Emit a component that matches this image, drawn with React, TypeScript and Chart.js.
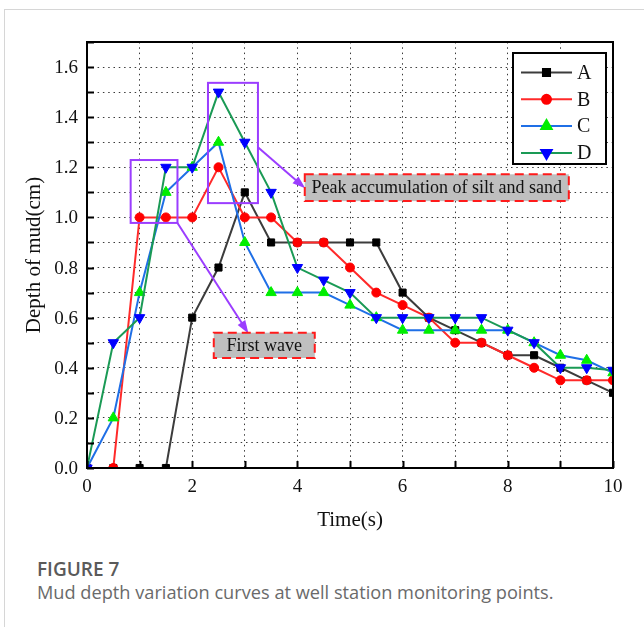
import React, { useEffect, useRef } from 'react';
import { Chart, registerables } from 'chart.js';
import { drawPoint } from 'chart.js/helpers';

Chart.register(...registerables);

// ---- data ----
const times = [0, 0.5, 1, 1.5, 2, 2.5, 3, 3.5, 4, 4.5, 5, 5.5, 6, 6.5, 7, 7.5, 8, 8.5, 9, 9.5, 10];
const seriesA = [0, 0, 0, 0, 0.6, 0.8, 1.1, 0.9, 0.9, 0.9, 0.9, 0.9, 0.7, 0.6, 0.55, 0.5, 0.45, 0.45, 0.4, 0.35, 0.3];
const seriesB = [0, 0, 1, 1, 1, 1.2, 1, 1, 0.9, 0.9, 0.8, 0.7, 0.65, 0.6, 0.5, 0.5, 0.45, 0.4, 0.35, 0.35, 0.35];
const seriesC = [0, 0.2, 0.7, 1.1, 1.2, 1.3, 0.9, 0.7, 0.7, 0.7, 0.65, 0.6, 0.55, 0.55, 0.55, 0.55, 0.55, 0.5, 0.45, 0.43, 0.38];
const seriesD = [0, 0.5, 0.6, 1.2, 1.2, 1.5, 1.3, 1.1, 0.8, 0.75, 0.7, 0.6, 0.6, 0.6, 0.6, 0.6, 0.55, 0.5, 0.4, 0.4, 0.39];
const seriesNames = ['A', 'B', 'C', 'D'];
const xTickValues = [0, 2, 4, 6, 8, 10];
const xTickLabels = ['0', '2', '4', '6', '8', '10'];
const yTickValues = [0, 0.2, 0.4, 0.6, 0.8, 1.0, 1.2, 1.4, 1.6];
const yTickLabels = ['0.0', '0.2', '0.4', '0.6', '0.8', '1.0', '1.2', '1.4', '1.6'];

const xTitle = 'Time(s)';
const yTitle = 'Depth of mud(cm)';
const captionTitle = 'FIGURE 7';
const captionText = 'Mud depth variation curves at well station monitoring points.';

// annotations in data coordinates
const highlightBoxes = [
  { x0: 0.83, x1: 1.72, y0: 0.978, y1: 1.229 },
  { x0: 2.3, x1: 3.25, y0: 1.057, y1: 1.537 },
];
const arrows = [
  { x0: 1.72, y0: 0.978, x1: 3.07, y1: 0.537 },
  { x0: 3.25, y0: 1.28, x1: 4.15, y1: 1.116 },
];
const noteBoxes = [
  { text: 'Peak accumulation of silt and sand', x0: 4.14, x1: 9.16, y0: 1.065, y1: 1.172 },
  { text: 'First wave', x0: 2.41, x1: 4.33, y0: 0.439, y1: 0.54 },
];

const SERIF = "'Liberation Serif', 'Times New Roman', serif";
const PURPLE = '#9b3dff';

Chart.defaults.font.family = SERIF;

const styles = [
  { line: '#3c3c3c', point: '#000000', pointStyle: 'rect', radius: 5, rotation: 0 },
  { line: '#ff2a2a', point: '#ff0000', pointStyle: 'circle', radius: 4.5, rotation: 0 },
  { line: '#1f6fe6', point: '#00ee00', pointStyle: 'triangle', radius: 6, rotation: 0 },
  { line: '#1a9a55', point: '#0000ff', pointStyle: 'triangle', radius: 6, rotation: 180 },
];

const decorPlugin = {
  id: 'decor',
  afterDatasetsDraw(chart: any) {
    const { ctx, chartArea, scales } = chart;
    const xs = scales.x;
    const ys = scales.y;
    ctx.save();
    // purple highlight boxes
    ctx.strokeStyle = PURPLE;
    ctx.lineWidth = 2;
    highlightBoxes.forEach((b) => {
      const l = xs.getPixelForValue(b.x0);
      const r = xs.getPixelForValue(b.x1);
      const t = ys.getPixelForValue(b.y1);
      const bt = ys.getPixelForValue(b.y0);
      ctx.strokeRect(l, t, r - l, bt - t);
    });
    // arrows
    arrows.forEach((a) => {
      const px0 = xs.getPixelForValue(a.x0);
      const py0 = ys.getPixelForValue(a.y0);
      const px1 = xs.getPixelForValue(a.x1);
      const py1 = ys.getPixelForValue(a.y1);
      const ang = Math.atan2(py1 - py0, px1 - px0);
      const hl = 13;
      const hw = 4.5;
      const bx = px1 - hl * Math.cos(ang);
      const by = py1 - hl * Math.sin(ang);
      ctx.strokeStyle = PURPLE;
      ctx.lineWidth = 2;
      ctx.beginPath();
      ctx.moveTo(px0, py0);
      ctx.lineTo(bx + 3 * Math.cos(ang), by + 3 * Math.sin(ang));
      ctx.stroke();
      ctx.fillStyle = PURPLE;
      ctx.beginPath();
      ctx.moveTo(px1, py1);
      ctx.lineTo(bx - hw * Math.sin(ang), by + hw * Math.cos(ang));
      ctx.lineTo(bx + hw * Math.sin(ang), by - hw * Math.cos(ang));
      ctx.closePath();
      ctx.fill();
    });
    // note boxes
    noteBoxes.forEach((n) => {
      const l = xs.getPixelForValue(n.x0);
      const r = xs.getPixelForValue(n.x1);
      const t = ys.getPixelForValue(n.y1);
      const bt = ys.getPixelForValue(n.y0);
      ctx.fillStyle = '#bfbfbf';
      ctx.fillRect(l, t, r - l, bt - t);
      ctx.setLineDash([9, 5]);
      ctx.strokeStyle = '#ff1a1a';
      ctx.lineWidth = 2;
      ctx.strokeRect(l, t, r - l, bt - t);
      ctx.setLineDash([]);
      ctx.fillStyle = '#111';
      ctx.font = `18px ${SERIF}`;
      ctx.textAlign = 'center';
      ctx.textBaseline = 'middle';
      ctx.fillText(n.text, (l + r) / 2, (t + bt) / 2 + 1);
    });
    // frame
    ctx.strokeStyle = '#000';
    ctx.lineWidth = 2;
    ctx.strokeRect(chartArea.left, chartArea.top, chartArea.right - chartArea.left, chartArea.bottom - chartArea.top);
    // inward ticks
    ctx.beginPath();
    for (let i = 0; i <= 17; i++) {
      const py = Math.round(ys.getPixelForValue(i / 10)) + 0.5;
      ctx.moveTo(chartArea.left, py);
      ctx.lineTo(chartArea.left + 7, py);
    }
    for (let i = 0; i <= 10; i++) {
      const px = Math.round(xs.getPixelForValue(i)) + 0.5;
      ctx.moveTo(px, chartArea.bottom);
      ctx.lineTo(px, chartArea.bottom - 7);
    }
    ctx.stroke();

    // tick labels
    ctx.fillStyle = '#111';
    ctx.font = `19px ${SERIF}`;
    ctx.textBaseline = 'middle';
    ctx.textAlign = 'right';
    yTickValues.forEach((v, i) => {
      ctx.fillText(yTickLabels[i], chartArea.left - 9, ys.getPixelForValue(v) + 1);
    });
    ctx.textAlign = 'center';
    xTickValues.forEach((v, i) => {
      ctx.fillText(xTickLabels[i], xs.getPixelForValue(v), chartArea.bottom + 19);
    });

    // legend
    const lx = 513, ly = 53, lw = 93, lh = 111;
    ctx.fillStyle = '#fff';
    ctx.fillRect(lx, ly, lw, lh);
    ctx.strokeStyle = '#000';
    ctx.lineWidth = 2;
    ctx.strokeRect(lx, ly, lw, lh);
    chart.data.datasets.forEach((ds: any, i: number) => {
      const yy = 72.5 + i * 26.8;
      ctx.strokeStyle = ds.borderColor;
      ctx.lineWidth = 2;
      ctx.beginPath();
      ctx.moveTo(521, yy);
      ctx.lineTo(572, yy);
      ctx.stroke();
      ctx.fillStyle = ds.pointBackgroundColor;
      ctx.strokeStyle = ds.pointBorderColor;
      drawPoint(ctx, { pointStyle: ds.pointStyle, radius: ds.pointRadius, rotation: ds.pointRotation, borderWidth: 1 }, 546.5, yy);
      ctx.fillStyle = '#111';
      ctx.font = `20px ${SERIF}`;
      ctx.textAlign = 'left';
      ctx.textBaseline = 'middle';
      ctx.fillText(ds.label, 577, yy + 1);
    });
    ctx.restore();
  },
};

export default function App() {
  const canvasRef = useRef<HTMLCanvasElement | null>(null);

  useEffect(() => {
    const canvas = canvasRef.current;
    if (!canvas) return;
    const all = [seriesA, seriesB, seriesC, seriesD];
    const datasets = all.map((vals, i) => ({
      label: seriesNames[i],
      data: times.map((t, j) => ({ x: t, y: vals[j] })),
      borderColor: styles[i].line,
      backgroundColor: styles[i].line,
      borderWidth: 2,
      pointStyle: styles[i].pointStyle,
      pointRadius: styles[i].radius,
      pointRotation: styles[i].rotation,
      pointBackgroundColor: styles[i].point,
      pointBorderColor: styles[i].point,
      pointBorderWidth: 1,
      tension: 0,
      order: 4 - i,
    }));
    const chart = new Chart(canvas, {
      type: 'line',
      data: { datasets },
      plugins: [decorPlugin],
      options: {
        responsive: false,
        animation: false,
        devicePixelRatio: 1,
        layout: { padding: { left: 0, right: 31, top: 42, bottom: 0 } },
        plugins: { legend: { display: false }, tooltip: { enabled: false } },
        scales: {
          x: {
            type: 'linear',
            min: 0,
            max: 10,
            afterFit: (s: any) => { s.height = 72; },
            ticks: { stepSize: 1, display: false, autoSkip: false },
            grid: { color: '#3a3a3a', lineWidth: 1, drawTicks: false },
            border: { display: false, dash: [1.5, 3.8] },
            title: { display: true, text: xTitle, color: '#111', font: { family: SERIF, size: 21 }, padding: { top: 0, bottom: 7 } },
          },
          y: {
            type: 'linear',
            min: 0,
            max: 1.7,
            afterFit: (s: any) => { s.width = 87; },
            ticks: { stepSize: 0.1, display: false, autoSkip: false },
            grid: { color: '#3a3a3a', lineWidth: 1, drawTicks: false },
            border: { display: false, dash: [1.5, 3.8] },
            title: { display: true, text: yTitle, color: '#111', font: { family: SERIF, size: 21 }, padding: { top: 22, bottom: 0 } },
          },
        },
      } as any,
    });
    return () => chart.destroy();
  }, []);

  return (
    <div style={{ position: 'absolute', left: 0, top: 0, width: 644, height: 627, background: '#fff', overflow: 'hidden' }}>
      <div style={{ position: 'absolute', left: 4, top: 9, width: 700, height: 700, border: '1px solid #d6d6d6' }} />
      <canvas ref={canvasRef} width={644} height={540} style={{ position: 'absolute', left: 0, top: 0, width: 644, height: 540 }} />
      <div style={{ position: 'absolute', left: 37, top: 556, fontFamily: "'Open Sans', 'Noto Sans', sans-serif", fontSize: 19, fontWeight: 600, color: '#5a5a5a', whiteSpace: 'nowrap', lineHeight: '26px' }}>{captionTitle}</div>
      <div style={{ position: 'absolute', left: 37, top: 580, fontFamily: "'Open Sans', 'Noto Sans', sans-serif", fontSize: 18.2, color: '#6a6a6a', whiteSpace: 'nowrap', lineHeight: '24px' }}>{captionText}</div>
    </div>
  );
}
